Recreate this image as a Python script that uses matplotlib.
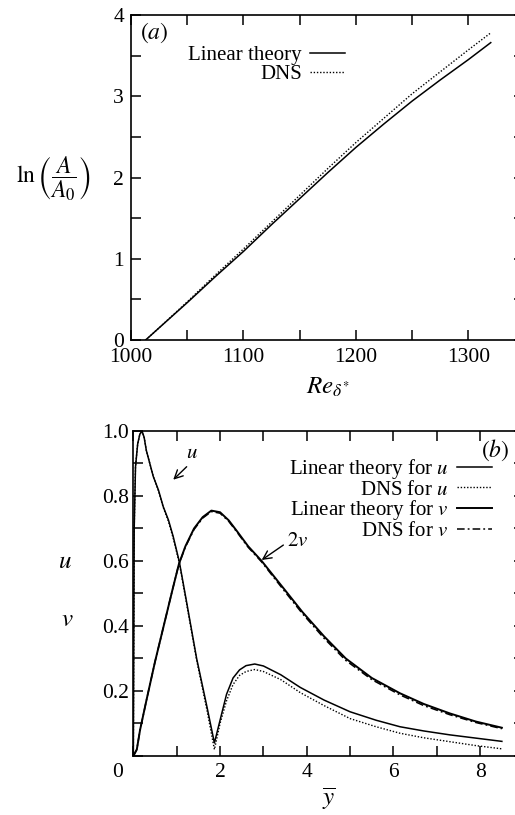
import matplotlib
matplotlib.use('Agg')
import matplotlib.pyplot as plt
from matplotlib.ticker import FixedLocator, FixedFormatter

plt.rcParams['font.family'] = ['Liberation Serif', 'DejaVu Serif']
plt.rcParams['mathtext.fontset'] = 'stix'
plt.rcParams['font.size'] = 15

# panel (a): growth of amplitude
re_a = [1013, 1025, 1050, 1075, 1100, 1125, 1150, 1175, 1200, 1225, 1250, 1275, 1300, 1320]
lna_lin = [0, 0.15, 0.46, 0.78, 1.09, 1.42, 1.74, 2.06, 2.37, 2.66, 2.94, 3.20, 3.45, 3.66]
lna_dns = [0, 0.15, 0.47, 0.80, 1.12, 1.45, 1.78, 2.11, 2.43, 2.73, 3.03, 3.30, 3.57, 3.78]

# panel (b): eigenfunctions
ybar_u = [0, 0.02, 0.05, 0.1, 0.15, 0.2, 0.25, 0.3, 0.38, 0.46, 0.58, 0.69, 0.81, 0.92, 1.06, 1.22,
          1.46, 1.7, 1.87, 2.0, 2.15, 2.3, 2.45, 2.6, 2.8, 3.0, 3.4, 3.85, 4.4, 5.0, 5.6, 6.15, 6.7,
          7.3, 7.9, 8.5]
u_lin = [0, 0.70, 0.89, 0.96, 0.99, 1.0, 0.98, 0.94, 0.90, 0.86, 0.818, 0.767, 0.726, 0.675, 0.598, 0.48,
         0.30, 0.15, 0.04, 0.11, 0.19, 0.24, 0.265, 0.278, 0.283, 0.277, 0.25, 0.211, 0.172, 0.136, 0.11,
         0.09, 0.077, 0.065, 0.055, 0.045]
u_dns = [0, 0.70, 0.89, 0.96, 0.99, 1.0, 0.98, 0.94, 0.90, 0.86, 0.815, 0.765, 0.722, 0.67, 0.594, 0.475,
         0.295, 0.14, 0.02, 0.10, 0.17, 0.22, 0.248, 0.26, 0.266, 0.26, 0.235, 0.195, 0.155, 0.115, 0.09,
         0.07, 0.056, 0.044, 0.032, 0.022]

ybar_v = [0, 0.08, 0.155, 0.3, 0.5, 0.7, 0.9, 1.05, 1.2, 1.4, 1.6, 1.8, 2.0, 2.2, 2.4, 2.65, 2.96,
          3.2, 3.5, 3.9, 4.4, 4.9, 5.5, 6.15, 6.7, 7.3, 7.9, 8.5]
v_lin = [0, 0.02, 0.08, 0.17, 0.29, 0.40, 0.51, 0.59, 0.645, 0.70, 0.735, 0.755, 0.75, 0.725, 0.69,
         0.645, 0.60, 0.56, 0.51, 0.443, 0.368, 0.30, 0.24, 0.193, 0.16, 0.131, 0.106, 0.087]
v_dns = [0, 0.02, 0.08, 0.17, 0.29, 0.40, 0.51, 0.59, 0.643, 0.697, 0.732, 0.752, 0.747, 0.722, 0.687,
         0.642, 0.597, 0.556, 0.505, 0.438, 0.362, 0.294, 0.235, 0.188, 0.155, 0.127, 0.103, 0.084]

dotted = (0, (1, 1.3))
dashdot = (0, (5, 2, 1.2, 2))

fig = plt.figure(figsize=(5.15, 8.15), dpi=100)
ax1 = fig.add_axes([0.2544, 0.5828, 0.764, 0.3988])
ax2 = fig.add_axes([0.2589, 0.0724, 0.7577, 0.3988])

for ax in (ax1, ax2):
    for s in ax.spines.values():
        s.set_linewidth(1.2)
    ax.tick_params(direction='in', length=7, width=1.1, top=True, right=True, labelsize=15.5, pad=3)

# (a)
ax1.plot(re_a, lna_lin, 'k-', lw=1.1, label='Linear theory')
ax1.plot(re_a, lna_dns, 'k', ls=dotted, lw=1.0, label='DNS')
ax1.set_xlim(1000, 1350)
ax1.set_ylim(0, 4)
xt = [1000 + 50 * i for i in range(7)]
ax1.xaxis.set_major_locator(FixedLocator(xt))
ax1.xaxis.set_major_formatter(FixedFormatter([str(t) if t % 100 == 0 else '' for t in xt]))
yt = [0.5 * i for i in range(9)]
ax1.yaxis.set_major_locator(FixedLocator(yt))
ax1.yaxis.set_major_formatter(FixedFormatter(['%d' % t if t == int(t) else '' for t in yt]))
ax1.tick_params(axis='y', pad=5)
ax1.tick_params(axis='x', pad=6)
ax1.text(0.022, 0.982, r'$(a)$', transform=ax1.transAxes, fontsize=17, va='top', ha='left')
ax1.legend(loc='upper right', bbox_to_anchor=(0.545, 0.905), markerfirst=False, frameon=False,
           handlelength=1.7, handletextpad=0.4, labelspacing=-0.05, borderaxespad=0, borderpad=0,
           fontsize=15)
ax1.set_xlabel(r'$Re_{\delta^{*}}$', fontsize=18, labelpad=6)
fig.text(0.103, 1 - 179 / 815, r'$\ln\left(\dfrac{A}{A_0}\right)$', fontsize=17, ha='center', va='center')

# (b)
ax2.plot(ybar_u, u_lin, 'k-', lw=1.1, label=r'Linear theory for $u$')
ax2.plot(ybar_u, u_dns, 'k', ls=dotted, lw=1.0, label=r'DNS for $u$')
ax2.plot(ybar_v, v_lin, 'k-', lw=1.4, label=r'Linear theory for $v$')
ax2.plot(ybar_v, v_dns, 'k', ls=dashdot, lw=1.1, label=r'DNS for $v$')
ax2.set_xlim(0, 9)
ax2.set_ylim(0, 1.0)
xt2 = list(range(10))
ax2.xaxis.set_major_locator(FixedLocator(xt2))
ax2.xaxis.set_major_formatter(FixedFormatter([str(t) if t % 2 == 0 and t > 0 else '' for t in xt2]))
yt2 = [0.1 * i for i in range(11)]
ax2.yaxis.set_major_locator(FixedLocator(yt2))
ax2.yaxis.set_major_formatter(FixedFormatter(['%.1f' % t if i % 2 == 0 and i > 0 else '' for i, t in enumerate(yt2)]))
ax2.tick_params(axis='x', pad=5)
ax2.text(-0.37, -0.05, '0', fontsize=15.5, ha='center', va='center')
ax2.text(0.89, 0.94, r'$(b)$', transform=ax2.transAxes, fontsize=17, va='center', ha='left')
ax2.legend(loc='upper right', bbox_to_anchor=(0.92, 0.92), markerfirst=False, frameon=False,
           handlelength=1.7, handletextpad=0.4, labelspacing=-0.05, borderaxespad=0, borderpad=0,
           fontsize=15)
ax2.annotate('', xy=(0.92, 0.85), xytext=(1.23, 0.89),
             arrowprops=dict(arrowstyle='->', lw=1.0, color='k', shrinkA=0, shrinkB=0))
ax2.text(1.35, 0.93, r'$u$', fontsize=15, ha='center', va='center')
ax2.annotate('', xy=(2.96, 0.603), xytext=(3.46, 0.649),
             arrowprops=dict(arrowstyle='->', lw=1.0, color='k', shrinkA=0, shrinkB=0))
ax2.text(3.79, 0.66, r'$2v$', fontsize=15, ha='center', va='center')
ax2.set_xlabel(r'$\overline{y}$', fontsize=18, labelpad=2)
fig.text(65 / 515, 1 - 562 / 815, r'$u$', fontsize=18, ha='center', va='center')
fig.text(67 / 515, 1 - 620 / 815, r'$v$', fontsize=18, ha='center', va='center')

fig.savefig('out.png', dpi=100)
